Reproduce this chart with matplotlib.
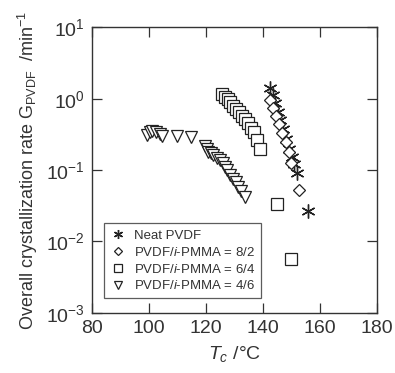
import matplotlib
matplotlib.use("Agg")
import matplotlib.pyplot as plt
from matplotlib.ticker import LogLocator, FixedLocator, NullLocator

plt.rcParams['font.family'] = ['Liberation Sans', 'DejaVu Sans']
plt.rcParams['mathtext.fontset'] = 'custom'
plt.rcParams['mathtext.rm'] = 'Liberation Sans'
plt.rcParams['mathtext.it'] = 'Liberation Sans:italic'
plt.rcParams['mathtext.default'] = 'regular'

# Neat PVDF
neat_T = [142.7, 143.5, 144.3, 145.3, 146.2, 147.2, 148.2, 149.3, 150.3, 151.0, 151.9, 156.0]
neat_G = [1.42, 1.12, 0.88, 0.66, 0.50, 0.37, 0.27, 0.20, 0.15, 0.12, 0.09, 0.027]
# PVDF/i-PMMA = 8/2
b82_T = [142.7, 143.6, 144.6, 145.7, 146.9, 148.1, 149.2, 150.0, 152.8]
b82_G = [0.96, 0.73, 0.57, 0.44, 0.33, 0.25, 0.18, 0.124, 0.0525]
# PVDF/i-PMMA = 6/4
b64_T = [125.8, 126.8, 127.7, 128.6, 129.7, 130.6, 131.7, 132.7, 133.8, 135.0, 135.9, 136.8, 137.9, 138.9, 144.9, 149.9]
b64_G = [1.16, 1.07, 0.98, 0.89, 0.80, 0.72, 0.65, 0.58, 0.52, 0.45, 0.39, 0.34, 0.26, 0.20, 0.0333, 0.0056]
# PVDF/i-PMMA = 4/6
b46_T = [99.5, 100.5, 101.3, 102.4, 104.0, 104.8, 109.8, 114.8,
         119.75, 120.3, 120.9, 121.7, 122.7, 123.9, 125.0, 126.0, 126.8, 127.6,
         128.5, 129.7, 130.5, 131.4, 132.3, 133.8]
b46_G = [0.31, 0.344, 0.35, 0.337, 0.316, 0.30, 0.30, 0.293,
         0.22, 0.197, 0.18, 0.171, 0.162, 0.146, 0.138, 0.124, 0.111, 0.100,
         0.085, 0.076, 0.069, 0.058, 0.050, 0.042]

labels = ['Neat PVDF', 'PVDF/$\\it{i}$-PMMA = 8/2', 'PVDF/$\\it{i}$-PMMA = 6/4', 'PVDF/$\\it{i}$-PMMA = 4/6']

fig = plt.figure(figsize=(3.95, 3.73), dpi=100)
ax = fig.add_axes([0.232, 0.1617, 0.722, 0.765])

ec = '#222222'
ax.plot(neat_T, neat_G, ls='none', marker=(6, 2, 0), ms=10, mec=ec, mew=1.0, label=labels[0])
ax.plot(b82_T, b82_G, ls='none', marker='D', ms=6, mfc='white', mec=ec, mew=0.9, label=labels[1])
ax.plot(b64_T, b64_G, ls='none', marker='s', ms=8, mfc='white', mec=ec, mew=0.9, label=labels[2])
ax.plot(b46_T, b46_G, ls='none', marker='v', ms=8.5, mfc='white', mec=ec, mew=0.9, label=labels[3])

ax.set_yscale('log')
ax.set_xlim(80, 180)
ax.set_ylim(1e-3, 1e1)
ax.xaxis.set_major_locator(FixedLocator([80, 100, 120, 140, 160, 180]))
ax.yaxis.set_major_locator(LogLocator(base=10, numticks=10))
ax.yaxis.set_minor_locator(NullLocator())
ax.tick_params(which='both', direction='in', top=True, right=True, length=7, width=0.9,
               labelsize=14, colors='#333333', pad=5)
for s in ax.spines.values():
    s.set_color('#333333')
    s.set_linewidth(1.0)

ax.set_xlabel('$\\it{T}_{\\it{c}}$ /°C', fontsize=14, color='#333333', labelpad=5)
ax.set_ylabel('Overall crystallization rate G$_{PVDF}$  /min$^{-1}$', fontsize=13, color='#333333', labelpad=4)

leg = ax.legend(loc='lower left', bbox_to_anchor=(0.045, 0.05), fontsize=9.5, frameon=True,
                fancybox=False, edgecolor='#333333', markerscale=0.65, handlelength=1.2,
                handletextpad=0.6, borderpad=0.45, labelspacing=0.3, borderaxespad=0)
leg.get_frame().set_linewidth(0.9)
for t in leg.get_texts():
    t.set_color('#333333')

fig.savefig('out.png', dpi=100)
